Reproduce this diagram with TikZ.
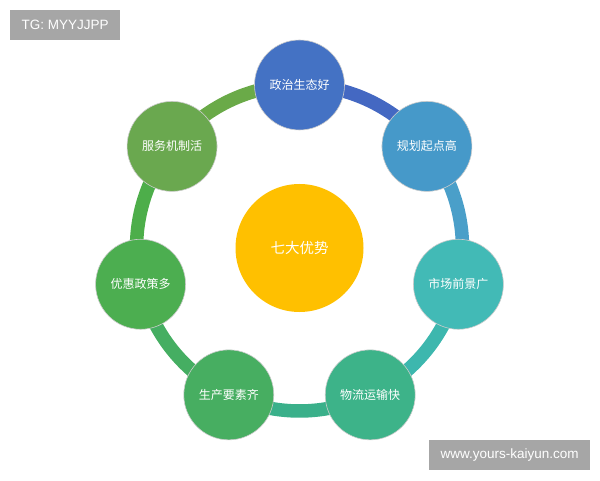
\documentclass[tikz,border=0pt]{standalone}
\usepackage{fontspec}
\usepackage{xcolor}
\usepackage{tikz}
\usetikzlibrary{backgrounds}
\setmainfont{Liberation Sans}
\newfontfamily\cjk{Noto Sans CJK SC}

\definecolor{cZheng}{HTML}{4472C4}
\definecolor{cGui}{HTML}{4699C9}
\definecolor{cShi}{HTML}{42BAB6}
\definecolor{cWu}{HTML}{3DB389}
\definecolor{cSheng}{HTML}{47AE61}
\definecolor{cYou}{HTML}{4CAE50}
\definecolor{cFu}{HTML}{6AA84F}
\definecolor{cCore}{HTML}{FFC000}
\definecolor{cMark}{HTML}{A6A6A6}

\begin{document}
\begin{tikzpicture}[
  x=1pt, y=1pt,
  item/.style={circle, draw=white!80!black, line width=0.6pt, minimum size=90pt, inner sep=0pt, text=white, font=\cjk\fontsize{12}{14}\selectfont},
  core/.style={circle, fill=cCore, minimum size=128pt, inner sep=0pt, text=white, font=\cjk\fontsize{14.5}{17}\selectfont},
  ring/.style={line width=13.5pt},
  stamp/.style={fill=cMark, text=white, inner sep=0pt, anchor=south west, font=\fontsize{13.5}{16}\selectfont}
]
\useasboundingbox (0,0) rectangle (600,480);

\begin{scope}[shift={(299.5,232)}]
\node[core] (core) at (0,0) {七大优势};
\node[item, fill=cZheng] (zheng) at (90:163) {政治生态好};
\node[item, fill=cGui] (gui) at (38.57:163) {规划起点高};
\node[item, fill=cShi] (shi) at (-12.86:163) {市场前景广};
\node[item, fill=cWu] (wu) at (-64.29:163) {物流运输快};
\node[item, fill=cSheng] (sheng) at (-115.71:163) {生产要素齐};
\node[item, fill=cYou] (you) at (-167.14:163) {优惠政策多};
\node[item, fill=cFu] (fu) at (141.43:163) {服务机制活};
\end{scope}

\begin{scope}[on background layer]
\draw[ring, color={rgb,255:red,68;green,104;blue,194}] (zheng.center) arc[start angle=90, end angle=38.57, radius=163];
\draw[ring, color={rgb,255:red,74;green,159;blue,201}] (gui.center) arc[start angle=38.57, end angle=-12.86, radius=163];
\draw[ring, color={rgb,255:red,61;green,183;blue,174}] (shi.center) arc[start angle=-12.86, end angle=-64.29, radius=163];
\draw[ring, color={rgb,255:red,58;green,176;blue,138}] (wu.center) arc[start angle=-64.29, end angle=-115.71, radius=163];
\draw[ring, color={rgb,255:red,69;green,174;blue,98}] (sheng.center) arc[start angle=-115.71, end angle=-167.14, radius=163];
\draw[ring, color={rgb,255:red,77;green,174;blue,74}] (you.center) arc[start angle=192.86, end angle=141.43, radius=163];
\draw[ring, color={rgb,255:red,106;green,170;blue,72}] (fu.center) arc[start angle=141.43, end angle=90, radius=163];
\end{scope}

\node[stamp, minimum width=110pt, minimum height=30pt] (tg) at (10,440) {TG: MYYJJPP};
\node[stamp, minimum width=161pt, minimum height=30pt] (site) at (429,10) {www.yours-kaiyun.com};
\end{tikzpicture}
\end{document}
